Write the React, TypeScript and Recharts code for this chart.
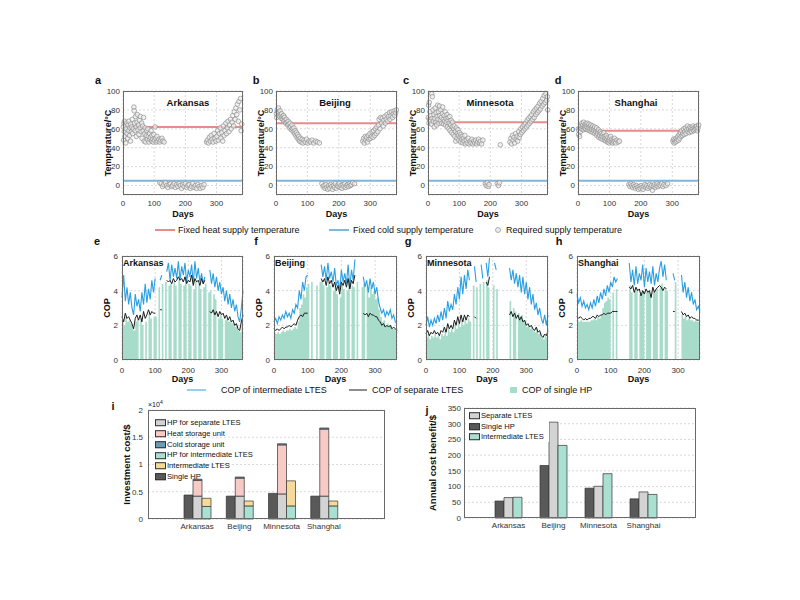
import React from 'react'
import {
  ScatterChart,
  Scatter,
  ComposedChart,
  Line,
  Area,
  BarChart,
  Bar,
  XAxis,
  YAxis,
  CartesianGrid,
  ReferenceLine,
  Label,
} from 'recharts'

const FONT = '"Liberation Sans", Arial, Helvetica, sans-serif'
const N = null

const CITIES = ['Arkansas', 'Beijing', 'Minnesota', 'Shanghai']
const DAY_TICKS = [0, 100, 200, 300]
const TEMP_TICKS = [0, 20, 40, 60, 80, 100]
const COP_TICKS = [0, 2, 4, 6]
const COST_TICKS = [0, 5000, 10000, 15000, 20000]
const BENEFIT_TICKS = [0, 50, 100, 150, 200, 250, 300, 350]

// fixed supply temperatures (°C)
const HEAT_SUPPLY = [62, 66, 67, 58]
const COLD_SUPPLY = [5, 5, 5, 5]

// required supply temperature, [day, °C]
const ARKANSAS_REQ = [
  [1, 62], [2, 48], [3, 66], [4, 57], [5, 68], [6, 52], [8, 63], [9, 45], [10, 60], [12, 66], [13, 55], [15, 50],
  [16, 64], [18, 58], [19, 68], [21, 53], [22, 61], [24, 47], [25, 65], [27, 57], [28, 62], [30, 70], [31, 55],
  [33, 60], [35, 83], [36, 79], [37, 66], [39, 58], [40, 73], [42, 62], [43, 52], [45, 67], [46, 75], [48, 59],
  [50, 64], [51, 54], [53, 69], [55, 61], [56, 73], [58, 57], [60, 66], [61, 50], [63, 63], [65, 58], [66, 72],
  [68, 47], [70, 55], [71, 61], [73, 46], [75, 53], [76, 58], [78, 49], [80, 60], [81, 52], [83, 46], [85, 55],
  [86, 49], [88, 51], [90, 58], [92, 47], [93, 53], [95, 49], [97, 46], [99, 54], [101, 48], [103, 62], [105, 50],
  [107, 46], [109, 52], [112, 47], [115, 49], [118, 46], [121, 48], [125, 50], [128, 47], [132, 46],
  [118, 3], [123, 2], [127, -1], [131, 1], [136, 3], [140, 0], [144, -2], [148, 1], [152, 2], [156, -1], [160, 0],
  [164, 2], [168, -2], [172, 1], [176, -1], [180, 2], [184, 0], [188, -3], [192, 1], [196, -1], [200, 2], [204, -2],
  [208, 0], [212, 1], [216, -3], [220, -1], [224, 2], [228, -2], [232, 0], [236, -3], [240, 1], [244, -1], [248, -3],
  [252, 0], [256, -2], [260, 1],
  [268, 46], [271, 48], [274, 45], [277, 51], [280, 47], [283, 53], [286, 49], [289, 46], [292, 55], [295, 50],
  [298, 47], [301, 52], [304, 58], [306, 48], [309, 55], [312, 61], [314, 50], [317, 56], [320, 47], [322, 63],
  [325, 53], [327, 58], [330, 66], [332, 55], [335, 61], [337, 68], [340, 57], [342, 64], [345, 70], [347, 60],
  [350, 67], [352, 74], [355, 63], [357, 78], [360, 70], [362, 82], [365, 75], [367, 86], [370, 68], [372, 89],
  [375, 80], [377, 92], [379, 58], [381, 65],
]

const BEIJING_REQ = [
  [1, 76], [2, 72], [4, 80], [5, 78], [7, 74], [8, 82], [10, 77], [12, 73], [13, 79], [15, 75], [17, 71], [18, 76],
  [20, 73], [22, 70], [24, 74], [25, 68], [27, 72], [29, 69], [31, 66], [33, 70], [35, 67], [37, 64], [39, 68],
  [41, 65], [43, 61], [45, 66], [47, 62], [49, 59], [51, 64], [53, 60], [55, 57], [57, 61], [59, 55], [61, 58],
  [63, 53], [65, 56], [67, 51], [69, 54], [71, 49], [73, 52], [75, 47], [77, 50], [80, 46], [83, 49], [86, 45],
  [89, 48], [93, 46], [97, 49], [101, 45], [105, 47], [110, 46], [115, 48], [120, 45], [126, 47], [132, 46], [138, 45],
  [146, 2], [150, -1], [153, 0], [156, -3], [159, 1], [162, -2], [165, -4], [168, 0], [171, -3], [174, 1], [177, -1],
  [180, -4], [183, 0], [186, -2], [189, 2], [192, -3], [195, 0], [198, -1], [201, 2], [204, -2], [207, 0], [210, -3],
  [213, 1], [216, -1], [219, 2], [222, -2], [225, 0], [228, 1], [231, -1], [234, 2], [237, 0], [240, 1], [244, 3],
  [250, 2],
  [276, 47], [279, 50], [281, 45], [284, 52], [286, 48], [289, 51], [291, 46], [294, 53], [296, 49], [299, 55],
  [301, 50], [304, 52], [306, 57], [309, 51], [311, 58], [314, 53], [316, 60], [319, 55], [321, 62], [324, 57],
  [326, 64], [328, 70], [331, 60], [333, 72], [336, 66], [338, 71], [341, 63], [343, 69], [346, 73], [348, 66],
  [351, 70], [353, 75], [356, 68], [358, 73], [361, 77], [363, 70], [366, 74], [368, 78], [371, 72], [373, 76],
  [376, 79], [378, 74], [381, 77], [383, 80],
]

const MINNESOTA_REQ = [
  [1, 72], [2, 85], [3, 66], [4, 88], [5, 70], [6, 78], [8, 68], [9, 74], [11, 65], [12, 97], [13, 71], [14, 94],
  [16, 80], [17, 68], [19, 75], [20, 62], [22, 71], [23, 82], [25, 67], [26, 77], [28, 64], [29, 73], [31, 85],
  [32, 70], [34, 78], [35, 66], [37, 84], [38, 74], [40, 69], [41, 80], [43, 72], [44, 66], [46, 76], [47, 83],
  [49, 70], [50, 65], [52, 74], [53, 68], [55, 78], [56, 64], [58, 71], [59, 67], [61, 75], [62, 62], [64, 69],
  [65, 72], [67, 60], [68, 66], [70, 73], [71, 58], [73, 64], [74, 69], [76, 56], [78, 62], [79, 67], [81, 54],
  [83, 60], [84, 63], [86, 52], [88, 57], [89, 47], [91, 61], [93, 50], [94, 55], [96, 59], [98, 53], [99, 48],
  [101, 56], [103, 51], [105, 46], [106, 54], [108, 49], [110, 52], [112, 45], [114, 50], [116, 47], [118, 53],
  [120, 44], [123, 48], [126, 45], [129, 50], [132, 44], [135, 47], [138, 45], [141, 49], [144, 44], [147, 47],
  [150, 45], [153, 48], [156, 44], [159, 46], [162, 49], [165, 45], [168, 47], [172, 44], [176, 48], [232, 43],
  [184, 2], [187, 0], [190, 3], [193, -1], [196, 1], [222, 2], [226, 0], [229, 3],
  [263, 46], [266, 50], [268, 44], [271, 53], [273, 48], [276, 51], [278, 45], [281, 55], [283, 49], [286, 52],
  [288, 47], [291, 57], [293, 51], [296, 54], [298, 60], [301, 56], [303, 62], [306, 58], [308, 64], [311, 60],
  [313, 66], [316, 62], [318, 69], [321, 64], [323, 71], [326, 66], [328, 73], [331, 68], [333, 75], [336, 70],
  [338, 78], [341, 72], [343, 80], [346, 75], [348, 82], [351, 77], [353, 84], [356, 79], [358, 87], [361, 81],
  [363, 89], [366, 84], [368, 92], [371, 86], [373, 95], [376, 88], [378, 97], [381, 90], [383, 94], [384, 80],
]

const SHANGHAI_REQ = [
  [1, 60], [2, 54], [3, 58], [5, 52], [6, 61], [8, 57], [9, 63], [11, 60], [12, 66], [14, 62], [15, 64], [17, 59],
  [18, 67], [20, 63], [21, 61], [23, 65], [24, 60], [26, 64], [27, 62], [29, 66], [30, 59], [32, 63], [33, 61],
  [35, 65], [36, 58], [38, 62], [39, 60], [41, 64], [42, 57], [44, 61], [45, 59], [47, 63], [48, 56], [50, 60],
  [51, 58], [53, 62], [54, 55], [56, 59], [57, 57], [59, 61], [60, 53], [62, 57], [63, 55], [65, 59], [66, 51],
  [68, 56], [69, 53], [71, 57], [72, 50], [74, 55], [75, 52], [77, 49], [79, 54], [80, 51], [82, 56], [84, 48],
  [85, 52], [87, 50], [89, 47], [90, 53], [92, 49], [94, 46], [95, 51], [97, 48], [99, 45], [100, 50], [102, 47],
  [104, 52], [106, 46], [108, 49], [110, 45], [112, 48], [114, 46], [116, 50], [118, 47], [120, 45], [124, 48],
  [128, 46], [132, 47],
  [162, 1], [165, -1], [168, 2], [171, 0], [174, -2], [177, 1], [180, -1], [183, -3], [186, 0], [189, -2], [192, -4],
  [195, -1], [198, -3], [201, 0], [204, -2], [207, -4], [210, -1], [213, 1], [216, -2], [219, 0], [222, -3], [225, -1],
  [228, 1], [231, -2], [234, 0], [237, -5], [240, -1], [243, 1], [246, -2], [249, 0], [252, 2], [255, -1], [258, 1],
  [262, 0], [266, 2], [270, -1], [274, 1], [280, 0], [285, 2],
  [302, 47], [304, 49], [306, 45], [308, 48], [310, 46], [312, 50], [314, 47], [316, 49], [318, 52], [320, 48],
  [322, 54], [324, 50], [326, 56], [328, 52], [330, 58], [332, 53], [334, 55], [336, 60], [338, 54], [340, 57],
  [342, 61], [344, 55], [346, 59], [348, 63], [350, 57], [352, 60], [354, 56], [356, 62], [358, 58], [360, 61],
  [362, 57], [364, 60], [366, 63], [368, 58], [370, 61], [372, 59], [374, 62], [376, 60], [378, 63], [380, 58],
  [382, 61], [384, 64],
]

// COP samples every 5 days
const COP_DAYS = [
  0, 5, 10, 15, 20, 25, 30, 35, 40, 45, 50, 55, 60, 65, 70, 75, 80, 85, 90, 95,
  100, 105, 110, 115, 120, 125, 130, 135, 140, 145, 150, 155, 160, 165, 170, 175, 180, 185, 190, 195,
  200, 205, 210, 215, 220, 225, 230, 235, 240, 245, 250, 255, 260, 265, 270, 275, 280, 285, 290, 295,
  300, 305, 310, 315, 320, 325, 330, 335, 340, 345, 350, 355, 360, 365,
]

const ARKANSAS_INTER = [
  3.6, 4.9, 3.4, 4.2, 3.2, 3.9, 3.0, 2.6, 3.8, 3.1,
  3.5, 2.8, 3.9, 3.2, 4.4, 3.3, 4.1, 3.5, 4.6, 3.9,
  4.7, N, N, 4.6, 4.9, N, N, 5.1, 5.6, 4.6,
  5.5, 4.8, 5.3, 4.7, 5.7, 4.6, 5.4, 4.9, 5.6, 4.5,
  5.2, 4.8, 5.5, 4.4, 5.7, 4.7, 5.3, 4.5, 5.0, 4.4,
  4.8, N, N, 5.2, 4.4, 5.0, 4.2, 4.8, 4.0, 4.5,
  3.8, 4.2, 3.4, 4.0, 3.2, 3.8, 3.0, 3.5, 2.8, 3.2,
  2.5, 2.2, 3.0, 4.0,
]
const ARKANSAS_SEP = [
  2.5, 2.2, 2.7, 2.4, 2.5, 2.3, 2.1, 1.8, 2.4, 2.6,
  2.3, 2.6, 2.2, 2.8, 2.4, 2.6, 2.9, 2.6, 2.8, 2.7,
  2.7, N, N, 2.9, 2.9, N, N, 4.6, 4.5, 4.6,
  4.4, 4.7, 4.5, 4.6, 4.8, 4.6, 4.7, 4.5, 4.8, 4.4,
  4.6, 4.5, 4.9, 4.3, 4.7, 4.5, 4.6, 4.3, 4.7, 4.4,
  4.6, N, N, 2.8, 2.7, 2.9, 2.6, 2.8, 2.5, 2.8,
  2.6, 2.7, 2.4, 2.6, 2.3, 2.5, 2.2, 2.3, 2.0, 2.1,
  1.8, 1.7, 2.2, 2.6,
]
const ARKANSAS_SINGLE = [
  2.3, 2.0, 2.5, 2.2, 2.3, 2.1, 1.9, 1.7, 2.2, 2.4,
  0, 2.4, 2.0, 0, 2.2, 0, 2.7, 2.4, 0, 2.5,
  2.5, 0, 4.2, 0, 4.4, 0, 4.5, 0, 4.3, 4.4,
  0, 4.5, 4.3, 0, 4.6, 4.4, 0, 4.3, 4.6, 0,
  4.4, 4.3, 0, 4.1, 4.5, 0, 4.4, 4.1, 0, 4.2,
  4.4, 0, 3.9, 4.0, 0, 3.8, 3.5, 0, 2.4, 2.6,
  2.4, 0, 2.3, 2.4, 2.2, 2.3, 2.1, 2.1, 1.9, 2.0,
  1.7, 1.6, 2.0, 2.4,
]

const BEIJING_INTER = [
  2.2, 2.4, 2.1, 2.5, 2.3, 2.6, 2.4, 2.8, 2.5, 2.7,
  2.4, 2.9, 2.7, 3.2, 3.0, 4.0, 3.5, 4.5, 4.0, 4.8,
  4.9, N, N, N, N, N, N, N, 5.5, 4.8,
  5.4, 4.6, 5.6, 4.7, 5.1, 4.5, 5.3, 4.3, 4.6, 4.0,
  5.2, 4.5, 5.0, 4.4, 5.5, 4.2, 5.2, 4.6, 5.8, N,
  N, N, N, 4.8, 4.2, 4.6, 3.9, 4.7, 4.1, 4.5,
  3.8, 4.2, 3.4, 3.0, 2.7, 2.9, 2.5, 2.8, 2.6, 2.9,
  2.4, 2.6, 2.2, 2.1,
]
const BEIJING_SEP = [
  1.8, 1.7, 1.8, 1.7, 1.8, 1.9, 1.8, 1.9, 1.9, 2.0,
  1.9, 2.0, 2.1, 2.0, 2.3, 2.5, 2.6, 2.5, 2.7, 2.7,
  2.7, N, N, N, N, N, N, N, 4.7, 4.5,
  4.7, 4.3, 4.8, 4.4, 4.6, 4.2, 4.5, 4.0, 4.3, 3.8,
  4.5, 4.3, 4.6, 4.2, 4.7, 4.1, 4.6, 4.4, 4.9, N,
  N, N, N, 2.7, 2.6, 2.7, 2.5, 2.7, 2.6, 2.6,
  2.5, 2.5, 2.3, 2.2, 2.0, 2.1, 1.9, 2.0, 1.9, 2.0,
  1.8, 1.9, 1.8, 1.7,
]
const BEIJING_SINGLE = [
  1.6, 1.5, 1.6, 1.5, 1.6, 1.7, 1.6, 1.7, 1.7, 1.8,
  1.7, 1.8, 1.9, 1.8, 2.2, 3.0, 3.2, 3.8, 3.6, 4.2,
  4.4, 0, 4.5, 0, 0, 4.3, 0, 4.5, 4.6, 4.3,
  0, 4.2, 4.5, 4.3, 0, 4.0, 4.3, 3.8, 0, 3.6,
  4.3, 4.1, 0, 4.0, 4.4, 0, 4.3, 4.2, 0, 4.5,
  0, 0, 4.2, 4.4, 0, 4.3, 3.6, 4.2, 3.8, 4.0,
  3.5, 3.6, 2.9, 2.5, 2.2, 2.3, 2.0, 2.1, 2.0, 2.0,
  1.8, 1.8, 1.7, 1.6,
]

const MINNESOTA_INTER = [
  2.0, 2.5, 1.9, 2.3, 2.0, 2.4, 2.1, 2.6, 2.2, 2.8,
  2.3, 3.0, 2.4, 3.4, 2.8, 3.2, 2.9, 3.8, 3.2, 4.2,
  3.5, 4.8, 3.8, 4.9, 4.1, 5.2, 4.6, N, N, 5.4,
  4.5, N, N, 5.5, 4.7, N, 5.6, 4.8, 5.9, N,
  N, 5.6, 5.2, N, N, N, N, N, N, N,
  5.3, 4.6, 5.2, 4.4, 5.0, 4.2, 4.9, 3.9, 4.8, 3.8,
  4.5, 3.5, 4.2, 3.2, 3.8, 2.9, 3.3, 2.6, 3.0, 2.4,
  2.1, 2.6, 2.0, 2.6,
]
const MINNESOTA_SEP = [
  1.5, 1.7, 1.4, 1.6, 1.5, 1.7, 1.5, 1.6, 1.4, 1.7,
  1.6, 1.9, 1.6, 2.1, 1.8, 2.0, 1.8, 2.3, 2.0, 2.5,
  2.1, 2.6, 2.2, 2.6, 2.3, 2.6, 2.5, N, N, 2.5,
  2.4, N, N, N, N, N, 4.5, 4.3, 4.8, N,
  N, N, N, N, N, N, N, N, N, N,
  2.6, 2.8, 2.5, 2.7, 2.4, 2.6, 2.3, 2.5, 2.2, 2.3,
  2.0, 2.1, 1.9, 2.0, 1.8, 1.7, 1.9, 1.6, 1.7, 1.4,
  1.3, 1.5, 1.4, 1.7,
]
const MINNESOTA_SINGLE = [
  1.3, 1.5, 1.2, 1.4, 1.3, 1.5, 1.3, 1.4, 1.2, 1.5,
  1.4, 1.7, 1.4, 1.9, 1.6, 1.8, 1.6, 2.0, 1.8, 2.2,
  1.9, 2.3, 2.0, 2.3, 2.1, 2.4, 2.2, 0, 4.3, 0,
  4.2, 0, 4.4, 0, 4.5, 0, 4.6, 4.2, 0, 0,
  4.3, 0, 4.1, 0, 0, 0, 0, 0, 0, 0,
  3.4, 0, 3.0, 2.8, 0, 2.7, 2.5, 2.6, 2.3, 2.2,
  1.9, 2.0, 1.8, 1.9, 1.7, 1.6, 1.8, 1.5, 1.6, 1.3,
  1.2, 1.4, 1.3, 1.6,
]

const SHANGHAI_INTER = [
  3.8, 3.3, 3.6, 3.1, 3.4, 3.0, 3.2, 2.9, 3.3, 3.0,
  3.5, 3.1, 3.7, 3.3, 3.9, 3.5, 4.1, 3.7, 4.3, 3.9,
  4.5, 4.2, 4.8, 4.5, 4.7, N, N, N, N, N,
  N, 5.6, 4.5, 5.2, 4.3, 5.4, 4.4, 5.0, 4.6, 5.5,
  4.2, 5.3, 4.5, 5.1, 4.4, 5.4, 4.3, 5.0, 4.5, 5.3,
  5.7, 4.8, 5.5, 4.6, N, N, N, 5.0, 4.6, N,
  N, N, 4.9, 3.9, 4.5, 3.6, 4.2, 3.4, 3.9, 3.2,
  3.5, 2.9, 3.1, 2.8,
]
const SHANGHAI_SEP = [
  2.5, 2.4, 2.5, 2.4, 2.3, 2.4, 2.3, 2.4, 2.4, 2.5,
  2.5, 2.4, 2.6, 2.5, 2.6, 2.6, 2.7, 2.6, 2.7, 2.7,
  2.7, 2.8, 2.8, 2.8, 2.8, N, N, N, N, N,
  N, 4.2, 4.1, 4.3, 3.9, 4.2, 4.0, 4.1, 3.7, 4.0,
  3.8, 4.1, 3.9, 4.0, 3.6, 4.2, 3.9, 4.1, 4.2, 4.3,
  4.2, 4.0, 4.2, 4.1, N, N, N, 2.8, 2.8, N,
  N, N, 2.8, 2.6, 2.7, 2.5, 2.6, 2.4, 2.5, 2.4,
  2.4, 2.3, 2.3, 2.3,
]
const SHANGHAI_SINGLE = [
  2.3, 2.2, 2.3, 2.2, 2.2, 2.2, 2.2, 2.2, 2.3, 2.3,
  2.4, 2.3, 2.5, 2.4, 2.6, 3.0, 3.3, 3.4, 3.6, 3.5,
  0, 3.9, 0, 4.1, 0, 0, 0, 0, 0, 0,
  0, 4.3, 3.9, 0, 4.0, 4.1, 0, 3.8, 3.9, 4.0,
  0, 3.9, 4.0, 3.8, 0, 4.0, 3.9, 4.1, 0, 4.2,
  4.4, 0, 4.1, 4.0, 0, 0, 0, 0, 4.5, 0,
  0, 0, 2.6, 2.4, 2.5, 2.3, 2.4, 2.3, 2.3, 2.2,
  2.3, 2.2, 2.2, 2.2,
]

// investment cost ($)
const SINGLE_HP_COST = [4400, 4200, 4700, 4200]
const SEP_HP_COST = [4200, 4200, 4600, 4200]
const HEAT_STORAGE_COST = [2900, 3300, 9000, 12300]
const COLD_STORAGE_COST = [200, 200, 200, 200]
const INTER_HP_COST = [2300, 2400, 2400, 2400]
const INTER_LTES_COST = [1500, 900, 4600, 900]

// annual cost benefit ($)
const SINGLE_HP_BENEFIT = [54, 167, 95, 61]
const SEP_LTES_BENEFIT = [65, 305, 101, 83]
const INTER_LTES_BENEFIT = [66, 231, 141, 75]

const C = {
  heat: '#e98b8b',
  cold: '#80b6d9',
  inter: '#2a9fe2',
  sep: '#1c1c1c',
  single: '#a7dccb',
  dark: '#595959',
  light: '#d3d3d3',
  mint: '#a9e0d2',
  pink: '#f8cac6',
  steel: '#6a9cb8',
  yellow: '#f6da9c',
}

const TICK = { fontSize: 8, fill: '#333' }
const GRID = '#d9d9d9'

type Rect = { l: number; t: number; w: number; h: number }

function Txt({ x, y, size = 9, bold = false, anchor = 'start', children }: any) {
  const tx = anchor === 'middle' ? '-50%' : anchor === 'end' ? '-100%' : '0'
  return (
    <div
      style={{
        position: 'absolute',
        left: x,
        top: y,
        transform: `translate(${tx}, -50%)`,
        fontSize: size,
        fontWeight: bold ? 700 : 400,
        lineHeight: 1.2,
        whiteSpace: 'nowrap',
        color: '#111',
      }}
    >
      {children}
    </div>
  )
}

function Frame({ r }: { r: Rect }) {
  return (
    <div
      style={{
        position: 'absolute',
        left: r.l,
        top: r.t,
        width: r.w,
        height: r.h,
        border: '1px solid #6a6a6a',
        boxSizing: 'border-box',
        pointerEvents: 'none',
      }}
    />
  )
}

const ring = (p: any) => (
  <circle cx={p.cx} cy={p.cy} r={2.3} fill="#eeeeee" fillOpacity={0.7} stroke="#8e8e8e" strokeWidth={0.7} />
)

function TempPanel({ r, points, heat, cold }: any) {
  const ML = 30, MR = 3, MT = 3, MB = 27
  const data = points.map(([day, temp]: number[]) => ({ day, temp }))
  return (
    <div style={{ position: 'absolute', left: r.l - ML, top: r.t - MT }}>
      <ScatterChart width={r.w + ML + MR} height={r.h + MT + MB} margin={{ top: MT, right: MR, bottom: 0, left: 0 }}>
        <CartesianGrid strokeDasharray="2 2" stroke={GRID} />
        <XAxis type="number" dataKey="day" domain={[0, 385]} ticks={DAY_TICKS} interval={0} height={MB}
          axisLine={false} tickLine={false} tickSize={4} tickMargin={1} tick={TICK}>
          <Label value="Days" position="insideBottom" offset={5.5} fontSize={9} fontWeight={700} fill="#111" />
        </XAxis>
        <YAxis type="number" dataKey="temp" domain={[-10, 100]} ticks={TEMP_TICKS} interval={0} width={ML}
          axisLine={false} tickLine={false} tickSize={2} tickMargin={1} tick={TICK}>
          <Label value="Temperature/°C" angle={-90} position="center" fontSize={9} fontWeight={700} fill="#111" />
        </YAxis>
        <Scatter data={data} shape={ring} isAnimationActive={false} />
        <ReferenceLine y={heat} stroke={C.heat} strokeWidth={2} />
        <ReferenceLine y={cold} stroke={C.cold} strokeWidth={2} />
      </ScatterChart>
    </div>
  )
}

function CopPanel({ r, inter, sep, single }: any) {
  const ML = 30, MR = 3, MT = 3, MB = 27
  const data = COP_DAYS.map((day, i) => ({ day, inter: inter[i], sep: sep[i], single: single[i] }))
  return (
    <div style={{ position: 'absolute', left: r.l - ML, top: r.t - MT }}>
      <ComposedChart width={r.w + ML + MR} height={r.h + MT + MB} data={data} margin={{ top: MT, right: MR, bottom: 0, left: 0 }}>
        <CartesianGrid strokeDasharray="2 2" stroke={GRID} />
        <XAxis type="number" dataKey="day" domain={[0, 365]} ticks={DAY_TICKS} interval={0} height={MB}
          axisLine={false} tickLine={false} tickSize={5} tickMargin={2} tick={TICK}>
          <Label value="Days" position="insideBottom" offset={5.5} fontSize={9} fontWeight={700} fill="#111" />
        </XAxis>
        <YAxis type="number" domain={[0, 6]} ticks={COP_TICKS} interval={0} width={ML}
          axisLine={false} tickLine={false} tickSize={3} tickMargin={1} tick={TICK}>
          <Label value="COP" angle={-90} position="center" fontSize={9} fontWeight={700} fill="#111" />
        </YAxis>
        <Area dataKey="single" type="stepAfter" fill={C.single} fillOpacity={1} stroke="none" isAnimationActive={false} />
        <Line dataKey="inter" type="linear" stroke={C.inter} strokeWidth={1.1} dot={false} connectNulls={false} isAnimationActive={false} />
        <Line dataKey="sep" type="linear" stroke={C.sep} strokeWidth={1} dot={false} connectNulls={false} isAnimationActive={false} />
      </ComposedChart>
    </div>
  )
}

const swatch = (fill: string, w = 11, h = 7) => (
  <span style={{ display: 'inline-block', width: w, height: h, background: fill, border: '0.7px solid #333', boxSizing: 'border-box' }} />
)

function BoxLegend({ x, y, w, h, step, items, bg }: any) {
  return (
    <div style={{ position: 'absolute', left: x, top: y, width: w, height: h, background: bg }}>
      {items.map(([label, fill]: string[], k: number) => (
        <div key={label} style={{ position: 'absolute', left: 2, top: 6 + k * step, transform: 'translateY(-50%)', display: 'flex', alignItems: 'center', gap: 1, fontSize: 7.6, lineHeight: 1, whiteSpace: 'nowrap' }}>
          {swatch(fill)}
          <span>{label}</span>
        </div>
      ))}
    </div>
  )
}

const TEMP_RECTS: Rect[] = [
  { l: 123, t: 91, w: 120, h: 104 },
  { l: 276, t: 91, w: 121, h: 104 },
  { l: 428, t: 91, w: 120, h: 104 },
  { l: 578, t: 91, w: 121, h: 104 },
]
const COP_RECTS: Rect[] = [
  { l: 122, t: 256, w: 121, h: 104 },
  { l: 274, t: 256, w: 123, h: 104 },
  { l: 426, t: 256, w: 122, h: 104 },
  { l: 577, t: 256, w: 123, h: 104 },
]
const COST_RECT: Rect = { l: 148, t: 410, w: 237, h: 109 }
const BENEFIT_RECT: Rect = { l: 464, t: 408, w: 232, h: 110 }

export default function App() {
  const reqSets = [ARKANSAS_REQ, BEIJING_REQ, MINNESOTA_REQ, SHANGHAI_REQ]
  const copSets = [
    [ARKANSAS_INTER, ARKANSAS_SEP, ARKANSAS_SINGLE],
    [BEIJING_INTER, BEIJING_SEP, BEIJING_SINGLE],
    [MINNESOTA_INTER, MINNESOTA_SEP, MINNESOTA_SINGLE],
    [SHANGHAI_INTER, SHANGHAI_SEP, SHANGHAI_SINGLE],
  ]
  const costRows = CITIES.map((city, i) => ({
    city,
    single: SINGLE_HP_COST[i],
    sepHp: SEP_HP_COST[i],
    heat: HEAT_STORAGE_COST[i],
    cold: COLD_STORAGE_COST[i],
    interHp: INTER_HP_COST[i],
    interLtes: INTER_LTES_COST[i],
  }))
  const benefitRows = CITIES.map((city, i) => ({
    city,
    single: SINGLE_HP_BENEFIT[i],
    sep: SEP_LTES_BENEFIT[i],
    inter: INTER_LTES_BENEFIT[i],
  }))
  const titleX = [188, 335, 490, 636]
  const topLetters = [['a', 98], ['b', 256], ['c', 406], ['d', 558]]
  const midLetters = [['e', 97], ['f', 256], ['g', 408], ['h', 559]]
  const barStroke = { stroke: '#333', strokeWidth: 0.7 }

  return (
    <div style={{ position: 'absolute', left: 0, top: 0, width: 800, height: 600, background: '#fff', fontFamily: FONT, color: '#111', overflow: 'hidden' }}>
      {TEMP_RECTS.map((r, i) => (
        <React.Fragment key={'t' + i}>
          <TempPanel r={r} points={reqSets[i]} heat={HEAT_SUPPLY[i]} cold={COLD_SUPPLY[i]} />
          <Frame r={r} />
          <Txt x={titleX[i]} y={103} size={9.5} bold anchor="middle">{CITIES[i]}</Txt>
          <Txt x={topLetters[i][1]} y={81} size={11} bold anchor="middle">{topLetters[i][0]}</Txt>
        </React.Fragment>
      ))}

      {/* legend row 1 */}
      <svg style={{ position: 'absolute', left: 0, top: 224 }} width={800} height={12}>
        <line x1={155} x2={175} y1={6} y2={6} stroke={C.heat} strokeWidth={2} />
        <line x1={329} x2={349} y1={6} y2={6} stroke={C.cold} strokeWidth={2} />
        <circle cx={498} cy={6} r={2.5} fill="#eee" stroke="#8e8e8e" strokeWidth={0.7} />
      </svg>
      <Txt x={178} y={230}>Fixed heat supply temperature</Txt>
      <Txt x={353} y={230}>Fixed cold supply temperature</Txt>
      <Txt x={506} y={230}>Required supply temperature</Txt>

      {COP_RECTS.map((r, i) => (
        <React.Fragment key={'c' + i}>
          <CopPanel r={r} inter={copSets[i][0]} sep={copSets[i][1]} single={copSets[i][2]} />
          <Frame r={r} />
          <Txt x={r.l + 1} y={263} size={9} bold>{CITIES[i]}</Txt>
          <Txt x={midLetters[i][1]} y={242} size={11} bold anchor="middle">{midLetters[i][0]}</Txt>
        </React.Fragment>
      ))}

      {/* legend row 2 */}
      <svg style={{ position: 'absolute', left: 0, top: 384 }} width={800} height={12}>
        <line x1={187} x2={206} y1={6} y2={6} stroke={C.inter} strokeWidth={1} />
        <line x1={349} x2={367} y1={6} y2={6} stroke={C.sep} strokeWidth={1} />
        <rect x={510} y={3} width={7} height={6} fill={C.single} />
      </svg>
      <Txt x={221} y={390}>COP of intermediate LTES</Txt>
      <Txt x={372} y={390}>COP of separate LTES</Txt>
      <Txt x={522} y={390}>COP of single HP</Txt>

      {/* panel i */}
      <div style={{ position: 'absolute', left: COST_RECT.l - 42, top: COST_RECT.t - 3 }}>
        <BarChart width={COST_RECT.w + 42 + 3} height={COST_RECT.h + 3 + 18} data={costRows}
          margin={{ top: 3, right: 3, bottom: 0, left: 0 }} barGap={0} barSize={9}>
          <CartesianGrid vertical={false} strokeDasharray="2 2" stroke={GRID} />
          <XAxis dataKey="city" padding={{ left: 28, right: 40 }} height={18} axisLine={false} tickLine={false}
            tickSize={3} tickMargin={1} tick={TICK} interval={0} />
          <YAxis type="number" domain={[0, 20000]} ticks={COST_TICKS} interval={0} width={42}
            tickFormatter={(v: number) => String(v / 10000)} axisLine={false} tickLine={false}
            tickSize={3} tickMargin={2} tick={TICK}>
            <Label value="Investment cost/$" angle={-90} position="center" fontSize={9.5} fontWeight={700} fill="#111" />
          </YAxis>
          <Bar dataKey="single" stackId="a" fill={C.dark} {...barStroke} isAnimationActive={false} />
          <Bar dataKey="sepHp" stackId="b" fill={C.light} {...barStroke} isAnimationActive={false} />
          <Bar dataKey="heat" stackId="b" fill={C.pink} {...barStroke} isAnimationActive={false} />
          <Bar dataKey="cold" stackId="b" fill={C.steel} {...barStroke} isAnimationActive={false} />
          <Bar dataKey="interHp" stackId="c" fill={C.mint} {...barStroke} isAnimationActive={false} />
          <Bar dataKey="interLtes" stackId="c" fill={C.yellow} {...barStroke} isAnimationActive={false} />
        </BarChart>
      </div>
      <Frame r={COST_RECT} />
      <BoxLegend x={153} y={417} w={103} h={64} step={10.8} bg="transparent" items={[
        ['HP for separate LTES', C.light],
        ['Heat storage unit', C.pink],
        ['Cold storage unit', C.steel],
        ['HP for intermediate LTES', C.mint],
        ['Intermediate LTES', C.yellow],
        ['Single HP', C.dark],
      ]} />
      <Txt x={148} y={404} size={7}>×10<sup style={{ fontSize: 5 }}>4</sup></Txt>
      <Txt x={113} y={407} size={11} bold anchor="middle">i</Txt>

      {/* panel j */}
      <div style={{ position: 'absolute', left: BENEFIT_RECT.l - 62, top: BENEFIT_RECT.t - 3 }}>
        <BarChart width={BENEFIT_RECT.w + 62 + 3} height={BENEFIT_RECT.h + 3 + 18} data={benefitRows}
          margin={{ top: 3, right: 3, bottom: 0, left: 0 }} barGap={0} barSize={9}>
          <CartesianGrid vertical={false} strokeDasharray="2 2" stroke={GRID} />
          <XAxis dataKey="city" padding={{ left: 22, right: 30 }} height={18} axisLine={false} tickLine={false}
            tickSize={3} tickMargin={1} tick={TICK} interval={0} />
          <YAxis type="number" domain={[0, 350]} ticks={BENEFIT_TICKS} interval={0} width={62}
            axisLine={false} tickLine={false} tickSize={2} tickMargin={1} tick={TICK}>
            <Label value="Annual cost benefit/$" angle={-90} position="center" fontSize={9.5} fontWeight={700} fill="#111" />
          </YAxis>
          <Bar dataKey="single" fill={C.dark} {...barStroke} isAnimationActive={false} />
          <Bar dataKey="sep" fill={C.light} {...barStroke} isAnimationActive={false} />
          <Bar dataKey="inter" fill={C.mint} {...barStroke} isAnimationActive={false} />
        </BarChart>
      </div>
      <Frame r={BENEFIT_RECT} />
      <BoxLegend x={467} y={410} w={82} h={32} step={10.5} bg="#fff" items={[
        ['Separate LTES', C.light],
        ['Single HP', C.dark],
        ['Intermediate LTES', C.mint],
      ]} />
      <Txt x={427} y={411} size={11} bold anchor="middle">j</Txt>
    </div>
  )
}
